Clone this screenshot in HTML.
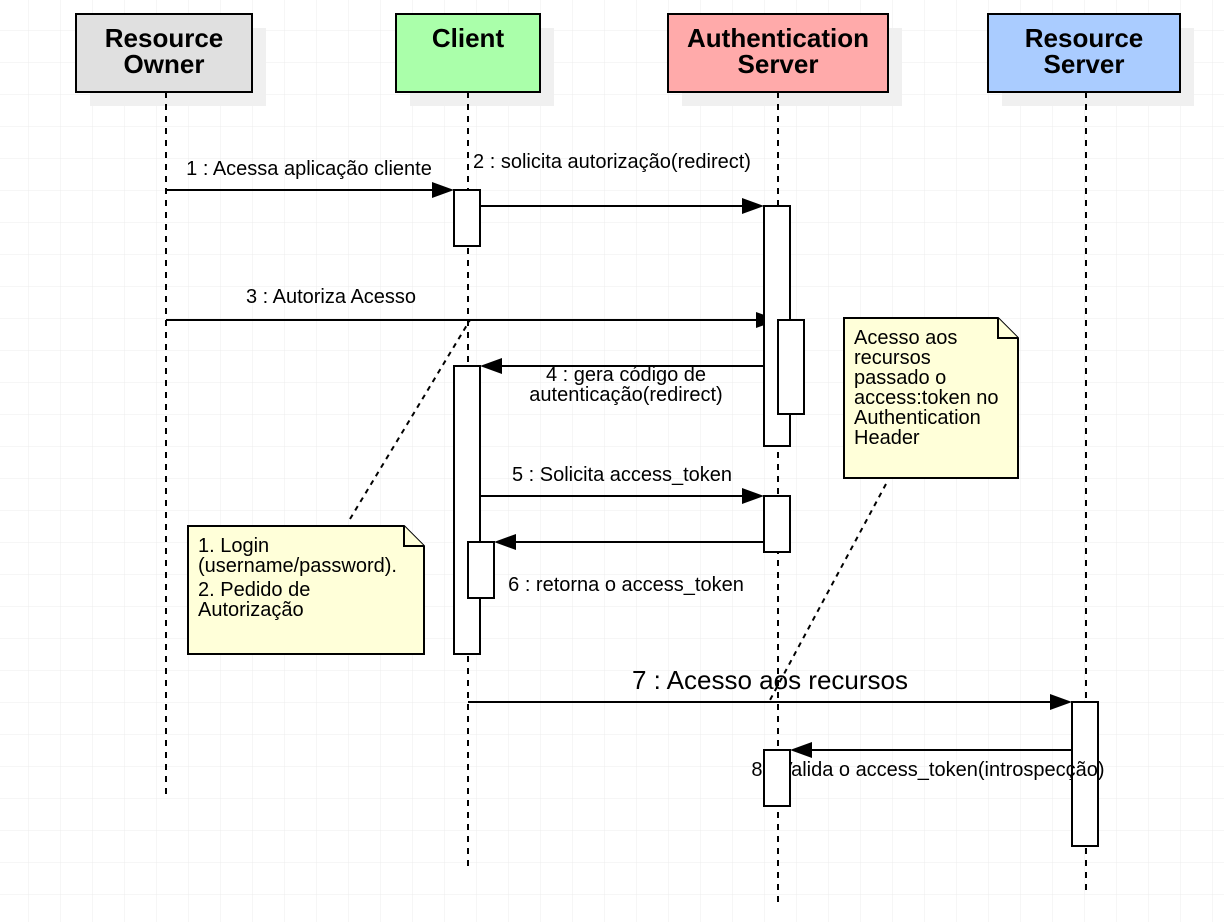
<!DOCTYPE html>
<html><head><meta charset="utf-8"><style>
html,body{margin:0;padding:0;background:#fff}
svg{display:block}
text{font-family:"Liberation Sans",Arial,sans-serif;fill:#000}
</style></head><body>
<svg width="1224" height="922" viewBox="0 0 1224 922" xmlns="http://www.w3.org/2000/svg">
<defs>
<pattern id="g" x="28" y="30" width="32" height="32" patternUnits="userSpaceOnUse">
<path d="M0 0H32M0 0V32" stroke="#ececec" stroke-width="1" fill="none"/>
</pattern>
</defs>
<rect width="1224" height="922" fill="url(#g)"/>
<g fill="#f0f0f0">
<rect x="90" y="28" width="176" height="78"/>
<rect x="410" y="28" width="144" height="78"/>
<rect x="682" y="28" width="220" height="78"/>
<rect x="1002" y="28" width="192" height="78"/>
</g>
<g stroke="#000" stroke-width="2" stroke-dasharray="6 6" fill="none">
<line x1="166" y1="92" x2="166" y2="796"/>
<line x1="468" y1="92" x2="468" y2="868"/>
<line x1="778" y1="92" x2="778" y2="905"/>
<line x1="1086" y1="92" x2="1086" y2="892"/>
<line x1="350" y1="519" x2="470" y2="320" stroke-dasharray="5 5"/>
<line x1="886" y1="484" x2="770" y2="700" stroke-dasharray="5 5"/>
</g>
<g stroke="#000" stroke-width="2">
<rect x="76" y="14" width="176" height="78" fill="#e0e0e0"/>
<rect x="396" y="14" width="144" height="78" fill="#aaffaa"/>
<rect x="668" y="14" width="220" height="78" fill="#ffaaaa"/>
<rect x="988" y="14" width="192" height="78" fill="#aaccff"/>
</g>
<g font-size="26" font-weight="bold" text-anchor="middle">
<text x="164" y="47">Resource</text><text x="164" y="73">Owner</text>
<text x="468" y="47">Client</text>
<text x="778" y="47">Authentication</text><text x="778" y="73">Server</text>
<text x="1084" y="47">Resource</text><text x="1084" y="73">Server</text>
</g>
<g font-size="20" text-anchor="middle">
<text x="309" y="175">1 : Acessa aplicação cliente</text>
<text x="612" y="168">2 : solicita autorização(redirect)</text>
<text x="331" y="303">3 : Autoriza Acesso</text>
<text x="626" y="381">4 : gera código de</text>
<text x="626" y="401">autenticação(redirect)</text>
<text x="622" y="481">5 : Solicita access_token</text>
<text x="626" y="591">6 : retorna o access_token</text>
<text x="770" y="689" font-size="26">7 : Acesso aos recursos</text>
</g>
<g stroke="#000" stroke-width="2" fill="none">
<line x1="166" y1="190" x2="440" y2="190"/>
<line x1="480" y1="206" x2="750" y2="206"/>
<line x1="166" y1="320" x2="764" y2="320"/>
<line x1="778" y1="366" x2="494" y2="366"/>
<line x1="480" y1="496" x2="750" y2="496"/>
<line x1="764" y1="542" x2="508" y2="542"/>
<line x1="468" y1="702" x2="1058" y2="702"/>
<line x1="1072" y1="750" x2="804" y2="750"/>
</g>
<g fill="#000">
<polygon points="454,190 432,182 432,198"/>
<polygon points="764,206 742,198 742,214"/>
<polygon points="778,320 756,312 756,328"/>
<polygon points="480,366 502,358 502,374"/>
<polygon points="764,496 742,488 742,504"/>
<polygon points="494,542 516,534 516,550"/>
<polygon points="1072,702 1050,694 1050,710"/>
<polygon points="790,750 812,742 812,758"/>
</g>
<g stroke="#000" stroke-width="2" fill="#fff">
<rect x="454" y="190" width="26" height="56"/>
<rect x="764" y="206" width="26" height="240"/>
<rect x="778" y="320" width="26" height="94"/>
<rect x="454" y="366" width="26" height="288"/>
<rect x="764" y="496" width="26" height="56"/>
<rect x="468" y="542" width="26" height="56"/>
<rect x="1072" y="702" width="26" height="144"/>
</g>
<text x="928" y="776" font-size="20" text-anchor="middle">8 : Valida o access_token(introspecção)</text>
<rect x="764" y="750" width="26" height="56" stroke="#000" stroke-width="2" fill="#fff"/>
<g stroke="#000" stroke-width="2" fill="#ffffd9">
<path d="M188 526H404L424 546V654H188Z"/>
<path d="M404 526V546H424"/>
<path d="M844 318H998L1018 338V478H844Z"/>
<path d="M998 318V338H1018"/>
</g>
<g font-size="20">
<text x="198" y="552">1. Login</text>
<text x="198" y="572">(username/password).</text>
<text x="198" y="596">2. Pedido de</text>
<text x="198" y="616">Autorização</text>
<text x="854" y="344">Acesso aos</text>
<text x="854" y="364">recursos</text>
<text x="854" y="384">passado o</text>
<text x="854" y="404">access:token no</text>
<text x="854" y="424">Authentication</text>
<text x="854" y="444">Header</text>
</g>
</svg>
</body></html>
